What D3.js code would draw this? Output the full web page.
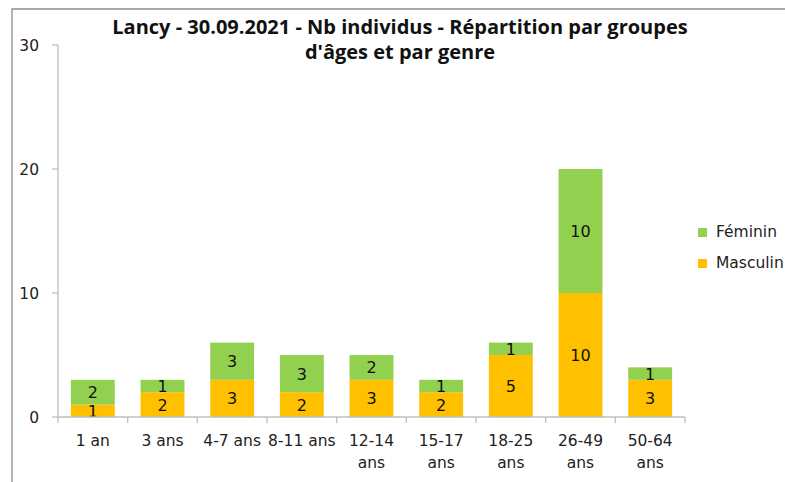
<!DOCTYPE html>
<html><head><meta charset="utf-8">
<script src="https://cdn.jsdelivr.net/npm/d3@7"></script>
<style>body{margin:0;background:#fff}svg{display:block}</style>
</head><body>
<svg id="c" width="785" height="482"></svg>
<script>
const categories = ["1 an","3 ans","4-7 ans","8-11 ans","12-14 ans","15-17 ans","18-25 ans","26-49 ans","50-64 ans"];
const masculin = [1,2,3,2,3,2,5,10,3];
const feminin  = [2,1,3,3,2,1,1,10,1];
const seriesNames = ["Masculin","Féminin"];
const seriesColors = ["#FFC000","#92D050"];
const yTicks = [0,10,20,30];
const titleLines = ["Lancy - 30.09.2021 - Nb individus - Répartition par groupes","d'âges et par genre"];

(function(){
const svg = d3.select("#c");
const font = "'DejaVu Sans', sans-serif";
const fs = "15.5px";
const pl = 58, pr = 685, pt = 45, pb = 417;

svg.append("path").attr("d","M12,482 L12,9 L785,9").attr("fill","none").attr("stroke","#8c8c8c").attr("stroke-width",1.3);

const x = d3.scaleBand().domain(categories).range([pl,pr]).paddingInner(0.37).paddingOuter(0.185);
const y = d3.scaleLinear().domain([0,30]).range([pb,pt]);

const data = categories.map((c,i)=>({cat:c, Masculin:masculin[i], "Féminin":feminin[i]}));
const stack = d3.stack().keys(seriesNames)(data);

const g = svg.append("g");
stack.forEach((s,si)=>{
  g.selectAll(null).data(s).enter().append("rect")
    .attr("x",d=>x(d.data.cat)).attr("width",x.bandwidth())
    .attr("y",d=>y(d[1])).attr("height",d=>y(d[0])-y(d[1]))
    .attr("fill",seriesColors[si]);
  g.selectAll(null).data(s).enter().append("text")
    .attr("x",d=>x(d.data.cat)+x.bandwidth()/2)
    .attr("y",d=>(y(d[0])+y(d[1]))/2)
    .attr("dy","0.37em").attr("text-anchor","middle")
    .style("font-family",font).style("font-size","16px").attr("fill","#111")
    .text(d=>d[1]-d[0]);
});

const axisColor = "#bfbfbf";
svg.append("line").attr("x1",pl).attr("x2",pl).attr("y1",pt).attr("y2",pb).attr("stroke",axisColor).attr("stroke-width",1.3);
yTicks.forEach(t=>{
  svg.append("line").attr("x1",pl-6).attr("x2",pl).attr("y1",y(t)).attr("y2",y(t)).attr("stroke",axisColor).attr("stroke-width",1.3);
  svg.append("text").attr("x",39).attr("y",y(t)).attr("dy","0.37em").attr("text-anchor","end")
    .style("font-family",font).style("font-size",fs).attr("fill","#222").text(t);
});
svg.append("line").attr("x1",pl).attr("x2",pr).attr("y1",pb).attr("y2",pb).attr("stroke",axisColor).attr("stroke-width",1.3);
for(let i=0;i<=categories.length;i++){
  const xx = pl + i*(pr-pl)/categories.length;
  svg.append("line").attr("x1",xx).attr("x2",xx).attr("y1",pb).attr("y2",pb+6).attr("stroke",axisColor).attr("stroke-width",1.3);
}
const singleLine = new Set(["1 an","3 ans","4-7 ans","8-11 ans"]);
categories.forEach(c=>{
  const cx = x(c)+x.bandwidth()/2;
  const w = c.split(" ");
  const lines = singleLine.has(c) ? [c] : [w[0], w.slice(1).join(" ")];
  lines.forEach((l,li)=>{
    svg.append("text").attr("x",cx).attr("y",446+li*22).attr("text-anchor","middle")
      .style("font-family",font).style("font-size",fs).attr("fill","#222").text(l);
  });
});

titleLines.forEach((t,i)=>{
  svg.append("text").attr("x",400).attr("y",34+i*25).attr("text-anchor","middle")
    .style("font-family","'Open Sans', sans-serif").style("font-weight","bold").style("font-size","20px").attr("fill","#111").text(t);
});

[1,0].forEach((si,k)=>{
  const ly = 237 + k*31;
  svg.append("rect").attr("x",698).attr("y",ly-9).attr("width",9).attr("height",9).attr("fill",seriesColors[si]);
  svg.append("text").attr("x",716).attr("y",ly)
    .style("font-family",font).style("font-size",fs).attr("fill","#222").text(seriesNames[si]);
});
})();
</script>
</body></html>
